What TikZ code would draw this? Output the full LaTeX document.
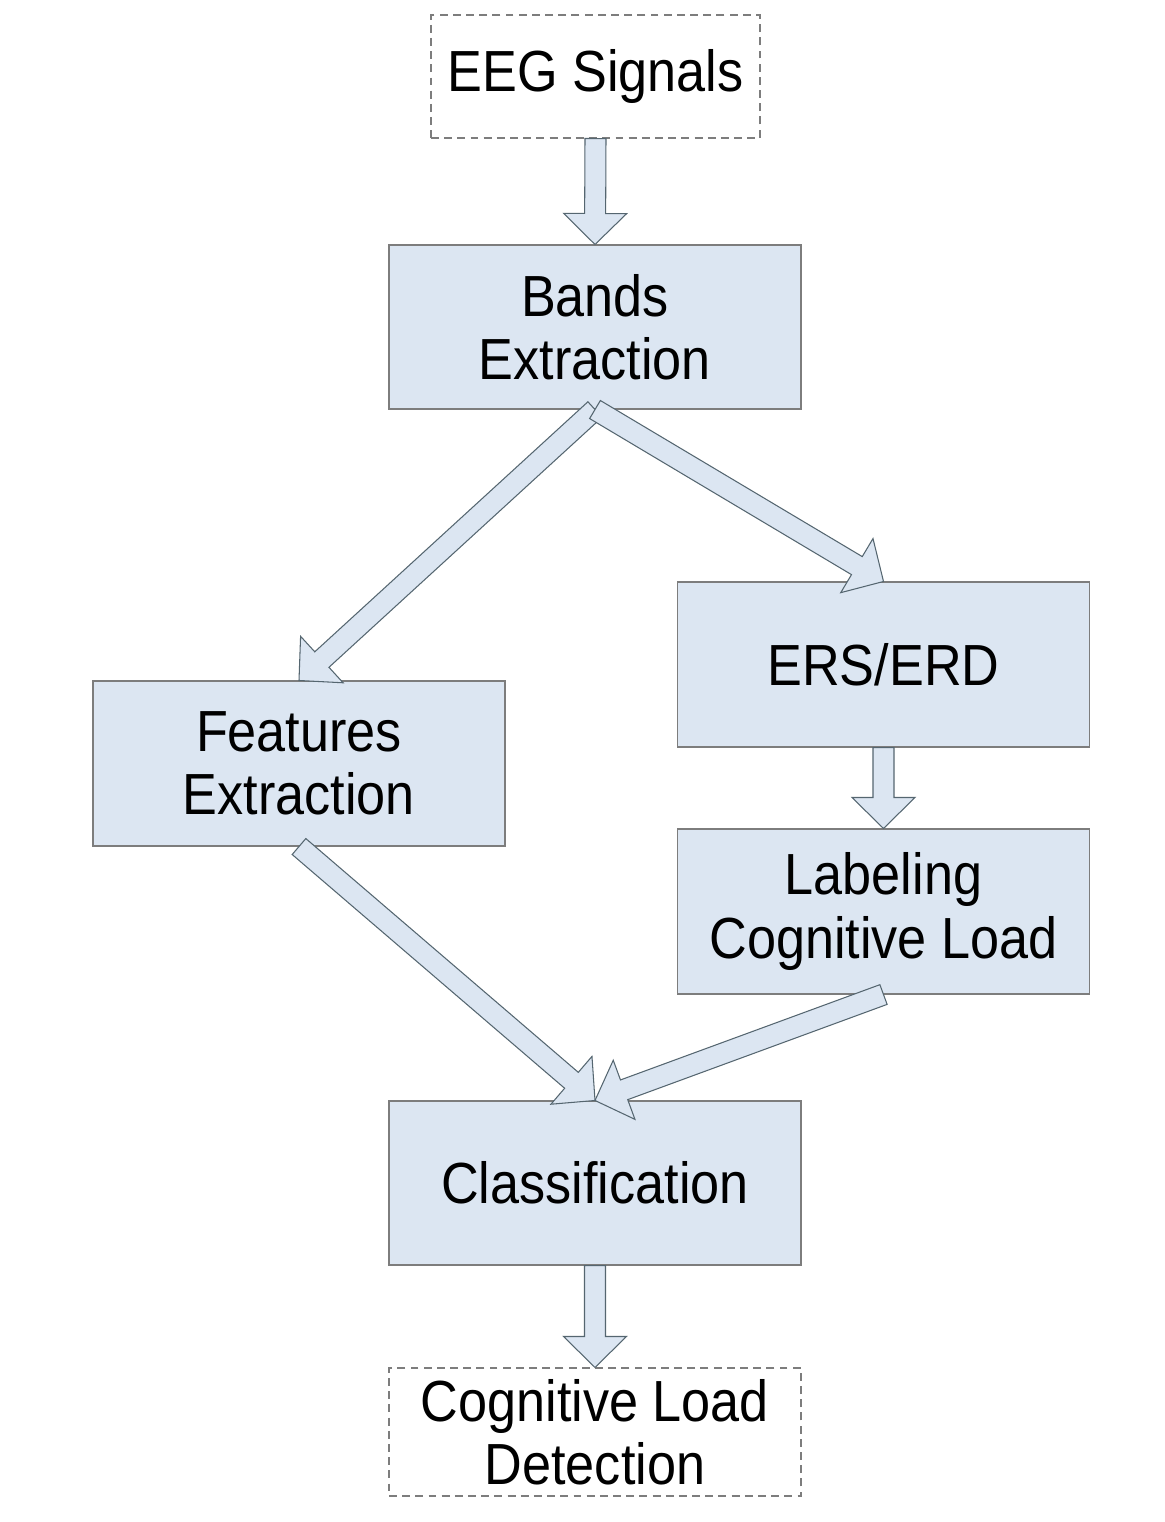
\documentclass[tikz,border=0pt]{standalone}
\usepackage{fontspec}
\setmainfont{Liberation Sans}[FakeStretch=0.9]
\usetikzlibrary{calc}

\definecolor{boxfill}{RGB}{220,230,242}
\definecolor{boxline}{RGB}{125,125,125}
\definecolor{arrowline}{RGB}{85,102,112}

% block arrow from node anchor #1 to node anchor #2
\newcommand{\blockarrow}[2]{%
  \coordinate (hb) at ($(#2)!0.62cm!(#1)$);
  \draw[barrow] ($(#1)!0.21cm!90:(#2)$) -- ($(hb)!0.21cm!90:(#2)$) -- ($(hb)!0.63cm!90:(#2)$)
    -- (#2) -- ($(hb)!0.63cm!-90:(#2)$) -- ($(hb)!0.21cm!-90:(#2)$) -- ($(#1)!0.21cm!-90:(#2)$) -- cycle;}

\begin{document}
\begin{tikzpicture}
% Styles
\tikzset{
  stage/.style={rectangle, draw=boxline, line width=0.6pt, fill=boxfill, align=center, minimum width=8.24cm, minimum height=3.3cm, font=\fontsize{33}{36}\selectfont},
  io/.style={rectangle, draw=boxline, line width=0.6pt, dash pattern=on 4.5pt off 3pt, fill=white, align=center, minimum height=2.5cm, font=\fontsize{33}{36}\selectfont},
  barrow/.style={draw=arrowline, line width=0.6pt, fill=boxfill, line join=miter}
}
\useasboundingbox (0,0) rectangle (23.3,-30.44);

% Input
\node[io, minimum width=6.58cm, minimum height=2.46cm] (eeg) at (11.91,-1.53) {EEG Signals};

% Processing stages
\node[stage, minimum height=3.28cm] (bands) at (11.9,-6.54) {Bands\\Extraction};
\node[stage] (erserd) at (17.67,-13.29) {ERS/ERD};
\node[stage] (features) at (5.98,-15.27) {Features\\Extraction};
\node[stage] (labeling) at (17.67,-18.23) {Labeling\\Cognitive Load};
\node[stage, minimum height=3.28cm] (classif) at (11.9,-23.66) {Classification};

% Output
\node[io, minimum width=8.24cm, minimum height=2.56cm] (detect) at (11.9,-28.64) {Cognitive Load\\Detection};

% Arrows
\blockarrow{eeg.south}{bands.north}
\blockarrow{bands.south}{features.north}
\blockarrow{bands.south}{erserd.north}
\blockarrow{erserd.south}{labeling.north}
\blockarrow{features.south}{classif.north}
\blockarrow{labeling.south}{classif.north}
\blockarrow{classif.south}{detect.north}

\end{tikzpicture}
\end{document}
